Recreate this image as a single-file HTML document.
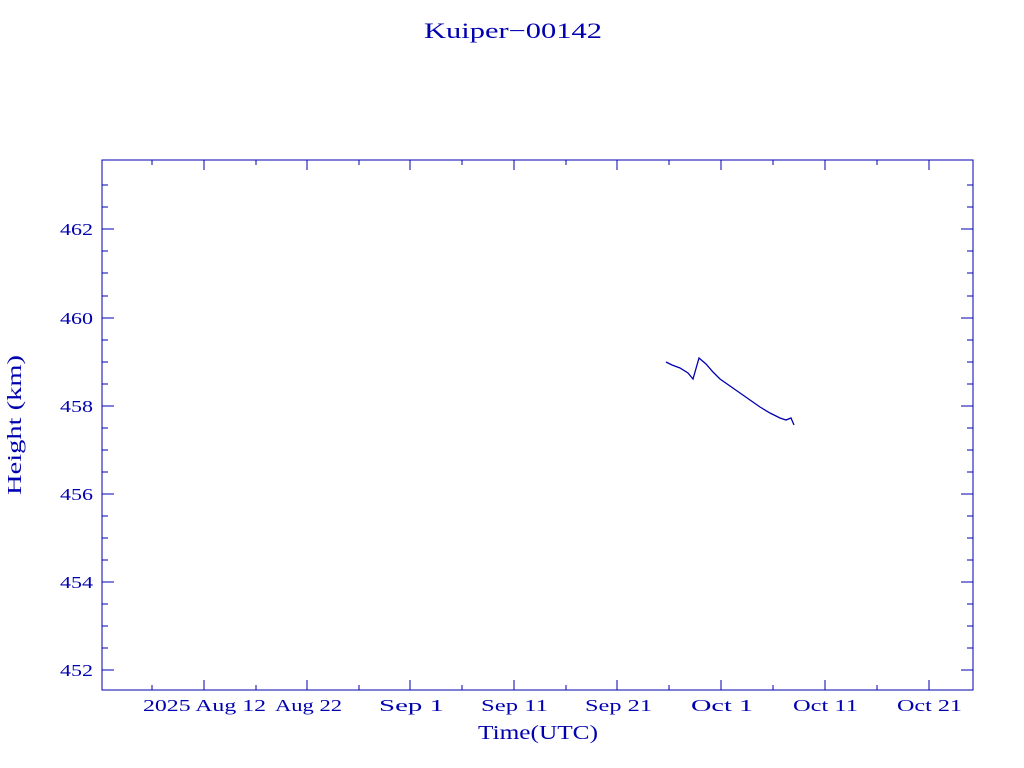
<!DOCTYPE html>
<html><head><style>body{margin:0;background:#fff}svg{display:block}</style></head><body>
<svg width="1024" height="768" xmlns="http://www.w3.org/2000/svg" font-family="Liberation Serif, serif" fill="#0000b0">
<rect width="1024" height="768" fill="#fff"/>
<text x="424" y="38" font-size="22" textLength="178" lengthAdjust="spacingAndGlyphs">Kuiper−00142</text>
<rect x="102" y="160" width="871" height="530" fill="none" stroke="#0000b0" stroke-width="1"/>
<g stroke="#0000b0" stroke-width="1">
<path d="M102 229h12M102 318h12M102 406h12M102 494h12M102 582h12M102 670h12M973 229h-12M973 318h-12M973 406h-12M973 494h-12M973 582h-12M973 670h-12"/>
<path d="M102 185h6M102 207h6M102 251h6M102 273h6M102 296h6M102 340h6M102 362h6M102 384h6M102 428h6M102 450h6M102 472h6M102 516h6M102 538h6M102 560h6M102 604h6M102 626h6M102 648h6
M973 185h-6M973 207h-6M973 251h-6M973 273h-6M973 296h-6M973 340h-6M973 362h-6M973 384h-6M973 428h-6M973 450h-6M973 472h-6M973 516h-6M973 538h-6M973 560h-6M973 604h-6M973 626h-6M973 648h-6"/>
<path d="M204 690v-10M307 690v-10M410 690v-10M514 690v-10M617 690v-10M721 690v-10M825 690v-10M929 690v-10
M204 160v10M307 160v10M410 160v10M514 160v10M617 160v10M721 160v10M825 160v10M929 160v10
M152 690v-5M256 690v-5M359 690v-5M462 690v-5M566 690v-5M669 690v-5M773 690v-5M877 690v-5
M152 160v5M256 160v5M359 160v5M462 160v5M566 160v5M669 160v5M773 160v5M877 160v5"/>
</g>
<g font-size="17">
<text x="60" y="235" textLength="33" lengthAdjust="spacingAndGlyphs">462</text>
<text x="60" y="324" textLength="33" lengthAdjust="spacingAndGlyphs">460</text>
<text x="60" y="412" textLength="33" lengthAdjust="spacingAndGlyphs">458</text>
<text x="60" y="500" textLength="33" lengthAdjust="spacingAndGlyphs">456</text>
<text x="60" y="588" textLength="33" lengthAdjust="spacingAndGlyphs">454</text>
<text x="60" y="676" textLength="33" lengthAdjust="spacingAndGlyphs">452</text>
</g>
<g font-size="17">
<text x="143" y="711" textLength="123" lengthAdjust="spacingAndGlyphs">2025 Aug 12</text>
<text x="275" y="711" textLength="67" lengthAdjust="spacingAndGlyphs">Aug 22</text>
<text x="379" y="711" textLength="65" lengthAdjust="spacingAndGlyphs">Sep  1</text>
<text x="481" y="711" textLength="67" lengthAdjust="spacingAndGlyphs">Sep 11</text>
<text x="585" y="711" textLength="67" lengthAdjust="spacingAndGlyphs">Sep 21</text>
<text x="691" y="711" textLength="62" lengthAdjust="spacingAndGlyphs">Oct  1</text>
<text x="793" y="711" textLength="65" lengthAdjust="spacingAndGlyphs">Oct 11</text>
<text x="897" y="711" textLength="65" lengthAdjust="spacingAndGlyphs">Oct 21</text>
</g>
<text x="478" y="739" font-size="20" textLength="120" lengthAdjust="spacingAndGlyphs">Time(UTC)</text>
<text transform="translate(21,495) rotate(-90)" font-size="20" textLength="140" lengthAdjust="spacingAndGlyphs">Height (km)</text>
<polyline fill="none" stroke="#0000b0" stroke-width="1.3" points="666,362 672,365 680,368 688,373 693,379 699,358 706,364 713,372 720,379 730,386 740,393 750,400 760,407 770,413 780,418 786,420 791,418 794,425"/>
</svg>
</body></html>
